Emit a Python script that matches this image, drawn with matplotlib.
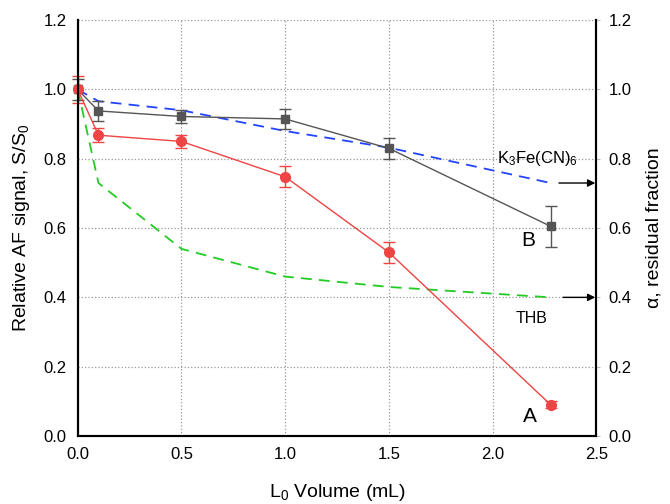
import matplotlib
matplotlib.use('Agg')
import matplotlib.pyplot as plt

plt.rcParams.update({
    'font.family': ['Liberation Sans', 'DejaVu Sans'],
    'mathtext.fontset': 'custom',
    'mathtext.rm': 'Liberation Sans',
    'mathtext.it': 'Liberation Sans',
})

# curve A (red circles) and B (gray squares)
vol = [0.0, 0.1, 0.5, 1.0, 1.5, 2.28]
sig_a = [1.0, 0.868, 0.85, 0.748, 0.53, 0.09]
err_a = [0.04, 0.02, 0.02, 0.03, 0.03, 0.01]
sig_b = [1.0, 0.938, 0.922, 0.915, 0.83, 0.605]
err_b = [0.03, 0.03, 0.02, 0.03, 0.03, 0.06]

# residual fractions (right axis)
alpha_k3 = [1.0, 0.966, 0.94, 0.88, 0.832, 0.73]
alpha_thb = [1.0, 0.73, 0.54, 0.46, 0.43, 0.40]

fig = plt.figure(figsize=(6.7, 5.04), dpi=100)
ax = fig.add_axes([0.116, 0.135, 0.774, 0.825])

ax.plot(vol, alpha_k3, color='#2244ff', linestyle=(0, (6, 4)), linewidth=1.3,
        zorder=2, clip_on=False)
ax.plot(vol, alpha_thb, color='#22cc22', linestyle=(0, (6, 4)), linewidth=1.3,
        zorder=2, clip_on=False)

eb_b = ax.errorbar(vol, sig_b, yerr=err_b, color='#555555', marker='s', markersize=6,
                   linewidth=1.0, capsize=4, elinewidth=1.0, capthick=1.0, zorder=3)
eb_a = ax.errorbar(vol, sig_a, yerr=err_a, color='#ee4444', marker='o', markersize=7,
                   linewidth=1.0, capsize=4, elinewidth=1.0, capthick=1.0, zorder=4)
for eb in (eb_a, eb_b):
    eb[0].set_clip_on(False)
    for c in eb[1]:
        c.set_clip_on(False)
    for c in eb[2]:
        c.set_clip_on(False)

ax.set_xlim(0, 2.5)
ax.set_ylim(0, 1.2)
ax.set_xticks([0, 0.5, 1.0, 1.5, 2.0, 2.5])
ax.set_yticks([0, 0.2, 0.4, 0.6, 0.8, 1.0, 1.2])
ax.xaxis.set_major_formatter(matplotlib.ticker.FormatStrFormatter('%.1f'))
ax.yaxis.set_major_formatter(matplotlib.ticker.FormatStrFormatter('%.1f'))
ax.grid(True, color='#999999', linestyle=':', linewidth=0.9)
ax.tick_params(labelsize=12, length=0, pad=8)
for sp in ax.spines.values():
    sp.set_linewidth(1.5)
ax.spines['top'].set_visible(False)

ax.set_xlabel('L$_0$ Volume (mL)', fontsize=14, labelpad=14)
ax.set_ylabel('Relative AF signal, S/S$_0$', fontsize=14, labelpad=8)

ax2 = ax.twinx()
ax2.set_ylim(0, 1.2)
ax2.set_yticks([0, 0.2, 0.4, 0.6, 0.8, 1.0, 1.2])
ax2.yaxis.set_major_formatter(matplotlib.ticker.FormatStrFormatter('%.1f'))
ax2.tick_params(labelsize=12, length=3, color='#bbbbbb', pad=6)
for sp in ax2.spines.values():
    sp.set_linewidth(1.5)
ax2.spines['top'].set_visible(False)
ax2.set_ylabel('\u03b1, residual fraction', fontsize=14, labelpad=10)

# arrows pointing to the right axis
ax.annotate('', xy=(2.495, alpha_k3[-1]), xytext=(2.32, alpha_k3[-1]),
            arrowprops=dict(arrowstyle='-|>', color='black', lw=1.0, mutation_scale=11,
                            shrinkA=0, shrinkB=0))
ax.annotate('', xy=(2.495, alpha_thb[-1]), xytext=(2.34, alpha_thb[-1]),
            arrowprops=dict(arrowstyle='-|>', color='black', lw=1.0, mutation_scale=11,
                            shrinkA=0, shrinkB=0))

ax.text(2.02, 0.8, 'K$_3$Fe(CN)$_6$', fontsize=12, ha='left', va='center')
ax.text(2.11, 0.34, 'THB', fontsize=11.5, ha='left', va='center')
ax.text(2.17, 0.565, 'B', fontsize=15, ha='center', va='center')
ax.text(2.18, 0.055, 'A', fontsize=15, ha='center', va='center')

fig.savefig('out.png', dpi=100)
